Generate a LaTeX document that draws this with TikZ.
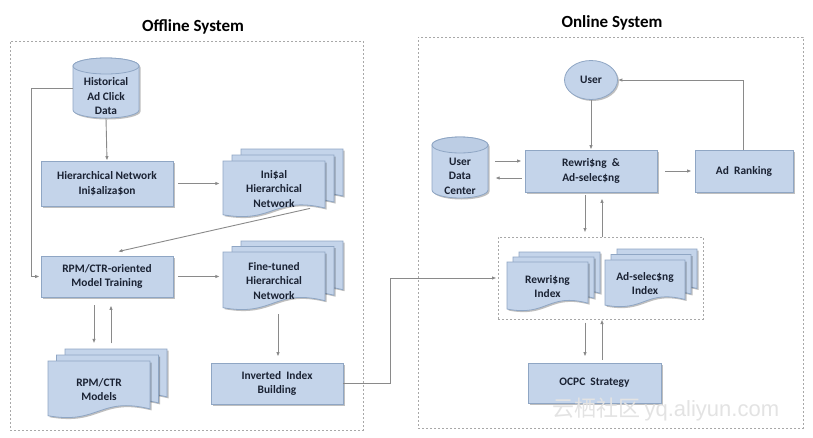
\documentclass[tikz,border=0pt]{standalone}
\usepackage{fontspec}
\setmainfont{Carlito}
\newfontfamily\cjkfont{Noto Sans CJK SC}
\newfontfamily\wmfont{Liberation Sans}
\usetikzlibrary{arrows.meta,shadows,calc,shapes.geometric}
\definecolor{bfill}{HTML}{C4D4EA}
\definecolor{bfillb}{HTML}{BCCDE4}
\definecolor{bbord}{HTML}{8FA6C4}
\definecolor{tcol}{HTML}{1A2233}
\definecolor{acol}{HTML}{8A8A8A}
\definecolor{dcol}{HTML}{A8A8A8}
\tikzset{
  shad/.style={drop shadow={shadow xshift=1.5pt,shadow yshift=-1.5pt,fill=black,opacity=0.25}},
  boxnode/.style={draw=bbord,fill=bfill,line width=0.8pt,text=tcol,font=\bfseries\fontsize{11.4}{14.5}\selectfont,align=center,inner sep=0pt,shad},
  txtnode/.style={text=tcol,font=\bfseries\fontsize{11.4}{14.5}\selectfont,align=center,inner sep=0pt},
  sheet/.style={draw=bbord,fill=bfill,line width=0.8pt,shad},
  grpbox/.style={draw=dcol,line width=1pt,dash pattern=on 2pt off 2pt},
  arr/.style={draw=acol,line width=0.9pt,-{Latex[length=4.5pt,width=3.5pt]}},
  ttl/.style={font=\bfseries\fontsize{17}{19}\selectfont,text=black}
}
% one sheet with a wavy bottom: x y w h (top-left, y grows downward)
\newcommand{\docsheet}[4]{%
  \pgfmathsetmacro{\xa}{#1}\pgfmathsetmacro{\xb}{#1+#3}%
  \pgfmathsetmacro{\xm}{#1+0.5*#3}%
  \pgfmathsetmacro{\ya}{#2}\pgfmathsetmacro{\yr}{#2+0.84*#4}%
  \pgfmathsetmacro{\ycu}{#2+0.62*#4}\pgfmathsetmacro{\ycd}{#2+1.12*#4}%
  \pgfmathsetmacro{\yl}{#2+0.96*#4}%
  \path[sheet] (\xa,\ya) -- (\xb,\ya) -- (\xb,\yr) .. controls (\xm,\ycu) and (\xm,\ycd) .. (\xa,\yl) -- cycle;}
% multi-document: name, x, y, w, h, ox, oy, text
\newcommand{\multidoc}[8]{%
  \docsheet{#2+2*#6}{#3-2*#7}{#4}{#5}%
  \docsheet{#2+#6}{#3-#7}{#4}{#5}%
  \docsheet{#2}{#3}{#4}{#5}%
  \node[txtnode,minimum width=#4pt,minimum height=0.9*#5pt] (#1) at ($(#2,#3)+(0.5*#4,0.5*#5)$) {#8};}
% cylinder: name, x1, y1, x2, y2, text
\newcommand{\dbcyl}[6]{%
  \pgfmathsetmacro{\cx}{0.5*(#2+#4)}\pgfmathsetmacro{\rx}{0.5*(#4-#2)}%
  \pgfmathsetmacro{\cyt}{#3+8}\pgfmathsetmacro{\cyb}{#5-8}%
  \path[sheet] (#2,\cyt) -- (#2,\cyb) arc[start angle=180,end angle=0,x radius=\rx,y radius=8] -- (#4,\cyt) arc[start angle=0,end angle=-180,x radius=\rx,y radius=8] -- cycle;
  \draw[draw=bbord,fill=bfillb,line width=0.8pt] (\cx,\cyt) ellipse[x radius=\rx,y radius=8];
  \node[txtnode,minimum width=(#4-#2)*1pt,minimum height=(#5-#3)*1pt] (#1) at (\cx,{0.5*(#3+#5)+8.5}) {#6};}
\begin{document}
\begin{tikzpicture}[x=1pt,y=-1pt]
\useasboundingbox (0,0) rectangle (813,437);
\fill[white] (0,0) rectangle (813,437);
% titles and system boxes
\node[ttl] (toff) at (193,27) {Offline System};
\node[ttl] (ton) at (612,23) {Online System};
\node[grpbox,minimum width=353pt,minimum height=389pt,inner sep=0pt] (off) at (186.5,235.5) {};
\node[grpbox,minimum width=385pt,minimum height=391pt,inner sep=0pt] (on) at (610.5,232.5) {};
% offline
\dbcyl{hist}{73}{58}{139}{118}{Historical\\Ad Click\\Data}
\node[boxnode,minimum width=132pt,minimum height=45pt] (hni) at (107,183.5) {Hierarchical Network\\Ini\$aliza\$on};
\multidoc{ihn}{223}{161}{102}{56}{9}{6}{Ini\$al\\Hierarchical\\Network}
\node[boxnode,minimum width=132pt,minimum height=41pt] (rpm) at (107,276.5) {RPM/CTR-oriented\\Model Training};
\multidoc{fhn}{223}{252}{102}{58}{9}{5.5}{Fine-tuned\\Hierarchical\\Network}
\multidoc{rcm}{48}{361}{102}{57}{8.5}{6}{RPM/CTR\\Models}
\node[boxnode,minimum width=132pt,minimum height=41pt] (iib) at (277,383.5) {Inverted~~Index\\Building};
% online
\node[draw=bbord,fill=bfill,line width=0.8pt,shad,ellipse,minimum width=53pt,minimum height=39pt,inner sep=0pt,txtnode] (user) at (591,80) {User};
\dbcyl{udc}{432}{137}{488}{198}{User\\Data\\Center}
\node[boxnode,minimum width=132pt,minimum height=42pt] (rw) at (591,171) {Rewri\$ng~~\&\\Ad-selec\$ng};
\node[boxnode,minimum width=98pt,minimum height=42pt] (ar) at (744,171) {Ad~~Ranking};
\node[grpbox,minimum width=205pt,minimum height=82pt,inner sep=0pt] (grp) at (600.5,278) {};
\multidoc{rwi}{507}{262}{81}{49}{6}{5}{Rewri\$ng\\Index}
\multidoc{asi}{605}{260}{80}{47}{6}{5.5}{Ad-selec\$ng\\Index}
\node[boxnode,minimum width=133pt,minimum height=40pt] (ocpc) at (594.5,383) {OCPC~~Strategy};
% watermark
\node[text=gray!22,inner sep=0pt] (wm) at (666,409) {\cjkfont\fontsize{22}{22}\selectfont 云栖社区\,\wmfont yq.aliyun.com};
% connectors offline
\coordinate (c1) at (31,88);
\draw[arr] ([yshift=8.5pt]hist.south) -- (hni.north);
\draw[arr] ([xshift=5pt]hni.east) -- ([xshift=-3pt]hni.east -| ihn.west);
\draw[arr] ([yshift=8.5pt]hist.west) -- ([yshift=8.5pt]hist.west -| c1) |- ([xshift=-1pt]rpm.west);
\draw[arr] ([shift={(36pt,6pt)}]ihn.south) -- ([shift={(11pt,4pt)}]rpm.north);
\draw[arr] ([xshift=5pt]rpm.east) -- ([xshift=-3pt]rpm.east -| fhn.west);
\draw[arr] ([shift={(-13pt,-8pt)}]rpm.south) -- ([shift={(-13pt,-46pt)}]rpm.south);
\draw[arr] ([shift={(4pt,-46pt)}]rpm.south) -- ([shift={(4pt,-8pt)}]rpm.south);
\draw[arr] ([shift={(4pt,-7pt)}]fhn.south) -- ([shift={(1pt,6pt)}]iib.north);
\coordinate (c2) at (390,383.5);
\draw[arr] (iib.east) -- (c2) |- ([xshift=-1pt]grp.west);
% connectors online
\coordinate (c3) at (743,80);
\draw[arr] (user.south) -- (rw.north);
\draw[arr] ([xshift=8pt]rw.east) -- ([xshift=-3pt]ar.west);
\draw[arr] ([xshift=-1pt]ar.north) -- (c3) -- (user.east);
\draw[arr] ([shift={(7pt,15pt)}]udc.east) -- ([shift={(-3pt,10pt)}]rw.west);
\draw[arr] ([shift={(-3pt,-7pt)}]rw.west) -- ([shift={(7pt,-2pt)}]udc.east);
\draw[arr] ([shift={(-6pt,-3pt)}]rw.south) -- ([shift={(-15.5pt,4pt)}]grp.north);
\draw[arr] ([xshift=1.5pt]grp.north) -- ([shift={(11pt,-6pt)}]rw.south);
\draw[arr] ([shift={(-15.5pt,-3pt)}]grp.south) -- ([shift={(-9.5pt,6pt)}]ocpc.north);
\draw[arr] ([shift={(7.5pt,3pt)}]ocpc.north) -- ([xshift=1.5pt]grp.south);
\end{tikzpicture}
\end{document}
